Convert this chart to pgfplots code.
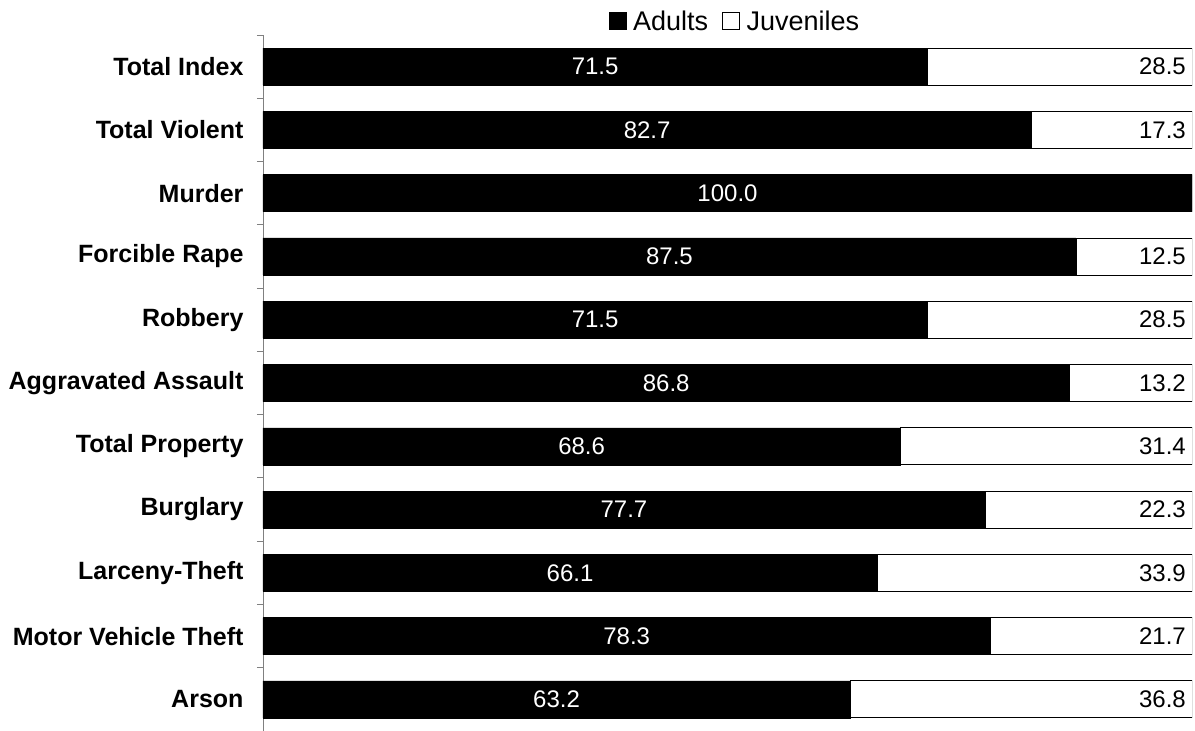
\documentclass[border=0pt]{standalone}
\usepackage{pgfplots}
\pgfplotsset{compat=1.18}
\usepackage{pgfplotstable}
\usepackage{fontspec}
\setmainfont{Liberation Sans}

\pgfplotstableread[col sep=comma]{
idx,adult,juv,al,jl
0,71.5,28.5,71.5,28.5
1,82.7,17.3,82.7,17.3
2,100.0,0,100.0,{}
3,87.5,12.5,87.5,12.5
4,71.5,28.5,71.5,28.5
5,86.8,13.2,86.8,13.2
6,68.6,31.4,68.6,31.4
7,77.7,22.3,77.7,22.3
8,66.1,33.9,66.1,33.9
9,78.3,21.7,78.3,21.7
10,63.2,36.8,63.2,36.8
}\data

\definecolor{axgray}{RGB}{128,128,128}

\begin{document}
\begin{tikzpicture}
\useasboundingbox (0pt,0pt) rectangle (1195pt,731pt);
\begin{axis}[
  at={(263pt,0pt)}, anchor=south west,
  scale only axis, width=929pt, height=696pt,
  xbar stacked, bar width=37pt,
  xmin=0, xmax=100, ymin=-0.5, ymax=10.5, y dir=reverse,
  axis x line=none, axis y line*=left,
  y axis line style={draw=axgray, line width=0.9pt},
  ytick={0,...,10},
  yticklabels={Total Index, Total Violent, Murder, Forcible Rape, Robbery, Aggravated Assault, Total Property, Burglary, Larceny-Theft, Motor Vehicle Theft, Arson},
  major tick length=0pt,
  minor ytick={-0.5,0.5,...,10.5}, minor tick length=6pt, tick align=outside,
  minor tick style={draw=axgray, line width=0.9pt},
  yticklabel style={font=\bfseries\fontsize{25}{29}\selectfont, xshift=-16pt},
  legend style={at={(0.508,1)}, anchor=center, yshift=14pt, draw=none, fill=none,
    font=\fontsize{27}{31}\selectfont,
    /tikz/every even column/.append style={column sep=12pt},
    /tikz/every odd column/.append style={column sep=0pt},
    nodes={inner xsep=2pt}},
  legend columns=2,
  legend image code/.code={\draw[#1, line width=0.7pt] (0pt,-8.5pt) rectangle (17pt,8.5pt); \path[draw=none, fill=none] (17pt,0pt) -- (22pt,0pt);},
]
\addplot[fill=black, draw=black] table[x=adult, y=idx] {\data};
\addlegendentry{Adults}
\addplot[fill=white, draw=black, line width=0.9pt] table[x=juv, y=idx] {\data};
\addlegendentry{Juveniles}
\end{axis}
\begin{axis}[
  at={(263pt,0pt)}, anchor=south west,
  scale only axis, width=929pt, height=696pt,
  xmin=0, xmax=100, ymin=-0.5, ymax=10.5, y dir=reverse,
  hide axis,
]
\addplot[draw=none, mark=none, nodes near coords, point meta=explicit symbolic,
  every node near coord/.append style={anchor=center, text=white, font=\fontsize{24}{28}\selectfont}]
  table[x expr=\thisrow{adult}/2, y=idx, meta=al] {\data};
\addplot[draw=none, mark=none, nodes near coords, point meta=explicit symbolic,
  every node near coord/.append style={anchor=east, text=black, inner xsep=6pt, font=\fontsize{24}{28}\selectfont}]
  table[x expr=100, y=idx, meta=jl] {\data};
\end{axis}
\end{tikzpicture}
\end{document}
